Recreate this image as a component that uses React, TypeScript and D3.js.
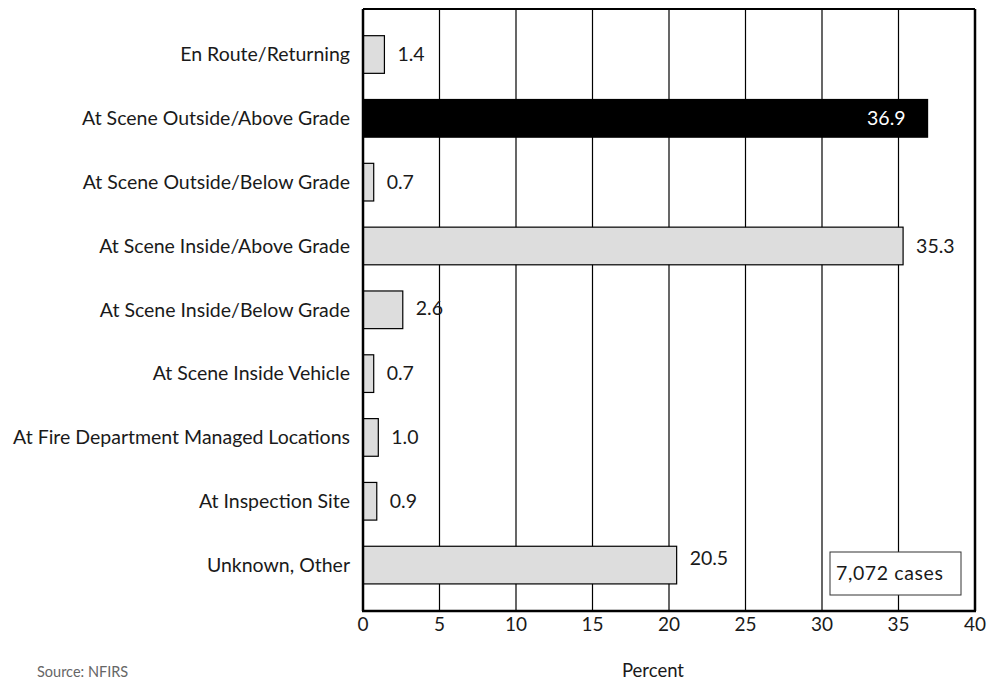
import React from "react";
import * as d3 from "d3";

const categories = [
  "En Route/Returning",
  "At Scene Outside/Above Grade",
  "At Scene Outside/Below Grade",
  "At Scene Inside/Above Grade",
  "At Scene Inside/Below Grade",
  "At Scene Inside Vehicle",
  "At Fire Department Managed Locations",
  "At Inspection Site",
  "Unknown, Other",
];
const values = [1.4, 36.9, 0.7, 35.3, 2.6, 0.7, 1.0, 0.9, 20.5];
const highlighted = [false, true, false, false, false, false, false, false, false];
const xTicks = [0, 5, 10, 15, 20, 25, 30, 35, 40];
const casesLabel = "7,072 cases";
const sourceLabel = "Source: NFIRS";
const axisTitle = "Percent";

// small vertical nudges of value labels, as placed in the original layout
const labelNudge: Record<string, number> = { "Unknown, Other": -7, "At Scene Inside/Below Grade": -2 };

const W = 987;
const H = 683;
const left = 363;
const right = 975;
const top = 9;
const bottom = 611;
const FONT = "Lato, 'Open Sans', sans-serif";
const INK = "#1a1a1a";

export default function App() {
  const x = d3.scaleLinear().domain([0, 40]).range([left, right]);
  const y = d3
    .scaleBand<string>()
    .domain(categories)
    .range([22.6, 597])
    .paddingInner(0.41)
    .paddingOuter(0.205);
  const bh = y.bandwidth();

  return (
    <svg
      width={W}
      height={H}
      style={{ position: "absolute", left: 0, top: 0, fontFamily: FONT }}
    >
      <rect x={0} y={0} width={W} height={H} fill="#fff" />
      {xTicks.slice(1, -1).map((t) => (
        <line
          key={t}
          x1={x(t)}
          x2={x(t)}
          y1={top}
          y2={bottom}
          stroke="#000"
          strokeWidth={1.2}
        />
      ))}
      {categories.map((c, i) => {
        const yy = y(c)!;
        const v = values[i];
        const hl = highlighted[i];
        const cy = yy + bh / 2;
        return (
          <g key={c}>
            <rect
              x={x(0)}
              y={yy}
              width={x(v) - x(0)}
              height={bh}
              fill={hl ? "#000" : "#dddddd"}
              stroke="#000"
              strokeWidth={1.2}
            />
            {hl ? (
              <text
                x={x(v) - 22}
                y={cy}
                dy="0.35em"
                textAnchor="end"
                fill="#fff"
                fontSize={19.5}
              >
                {v.toFixed(1)}
              </text>
            ) : (
              <text
                x={x(v) + 13}
                y={cy + (labelNudge[c] || 0)}
                dy="0.35em"
                textAnchor="start"
                fill={INK}
                fontSize={19.5}
              >
                {v.toFixed(1)}
              </text>
            )}
            <text
              x={350}
              y={cy}
              dy="0.35em"
              textAnchor="end"
              fill={INK}
              fontSize={19.5}
            >
              {c}
            </text>
          </g>
        );
      })}
      <line x1={left} x2={right} y1={top} y2={top} stroke="#000" strokeWidth={2.2} />
      <line x1={right} x2={right} y1={top} y2={bottom} stroke="#000" strokeWidth={2.5} />
      <line x1={left} x2={left} y1={top} y2={bottom} stroke="#000" strokeWidth={2.5} />
      <line x1={left - 1} x2={right + 1} y1={bottom} y2={bottom} stroke="#000" strokeWidth={2.5} />
      {xTicks.map((t) => (
        <text
          key={t}
          x={x(t)}
          y={624}
          dy="0.35em"
          textAnchor="middle"
          fill={INK}
          fontSize={19}
        >
          {t}
        </text>
      ))}
      <rect x={830} y={552} width={131} height={43} fill="#fff" stroke="#333" strokeWidth={1} />
      <text x={836} y={573.5} dy="0.35em" fill={INK} fontSize={19.5} letterSpacing={0.6}>
        {casesLabel}
      </text>
      <text x={653} y={671} dy="0.35em" textAnchor="middle" fill={INK} fontSize={18.5}>
        {axisTitle}
      </text>
      <text x={37} y={672} dy="0.35em" fill="#666" fontSize={14.5}>
        {sourceLabel}
      </text>
    </svg>
  );
}
